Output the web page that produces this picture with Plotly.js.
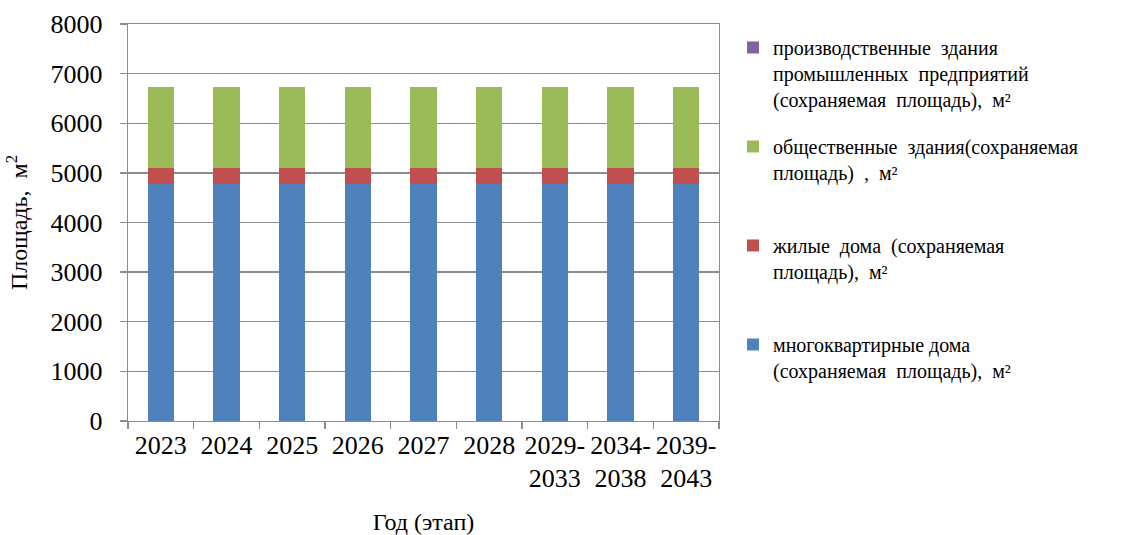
<!DOCTYPE html>
<html>
<head>
<meta charset="utf-8">
<script src="https://cdn.plot.ly/plotly-3.0.1.min.js"></script>
</head>
<body style="margin:0">
<div id="chart" style="width:1133px;height:535px"></div>
<script>
var categories = ["2023", "2024", "2025", "2026", "2027", "2028", "2029-<br>2033", "2034-<br>2038", "2039-<br>2043"];
var apartmentBuildings = [4780, 4780, 4780, 4780, 4780, 4780, 4780, 4780, 4780];
var residentialHouses = [315, 315, 315, 315, 315, 315, 315, 315, 315];
var publicBuildings = [1640, 1640, 1640, 1640, 1640, 1640, 1640, 1640, 1640];
var industrialBuildings = [0, 0, 0, 0, 0, 0, 0, 0, 0];
var seriesNames = [
  "многоквартирные дома<br>(сохраняемая  площадь),  м²<br>\u00a0",
  "жилые  дома  (сохраняемая<br>площадь),  м²<br>\u00a0",
  "общественные  здания(сохраняемая<br>площадь)  ,  м²<br>\u00a0",
  "производственные  здания<br>промышленных  предприятий<br>(сохраняемая  площадь),  м²"
];
var seriesColors = ["#4F81BD", "#C0504D", "#9BBB59", "#8064A2"];
var seriesValues = [apartmentBuildings, residentialHouses, publicBuildings, industrialBuildings];
var yTicks = [0, 1000, 2000, 3000, 4000, 5000, 6000, 7000, 8000];

var traces = seriesValues.map(function (vals, i) {
  return {
    type: "bar",
    x: categories,
    y: vals,
    name: seriesNames[i],
    legendgroup: "g" + i,
    legendrank: 1000 - i,
    marker: { color: seriesColors[i], line: { width: 0 } }
  };
});

var fontFamily = "Liberation Serif";
var gridColor = "#8c8c8c";

var layout = {
  width: 1133,
  height: 535,
  margin: { l: 128, r: 414, t: 24, b: 113.5 },
  barmode: "stack",
  bargap: 0.6,
  font: { family: fontFamily, color: "#000" },
  showlegend: true,
  legend: {
    x: 1.0237,
    xanchor: "left",
    y: 0.99,
    yanchor: "top",
    traceorder: "grouped",
    tracegroupgap: 18,
    valign: "top",
    font: { family: fontFamily, size: 20 }
  },
  xaxis: {
    type: "category",
    showline: true,
    linecolor: gridColor,
    linewidth: 1.3,
    mirror: true,
    ticks: "outside",
    tickson: "boundaries",
    ticklen: 7,
    tickcolor: gridColor,
    tickwidth: 1.3,
    tickangle: 0,
    showgrid: false,
    tickfont: { family: fontFamily, size: 26 },
    title: { text: "Год (этап)", font: { family: fontFamily, size: 24 }, standoff: 21 }
  },
  yaxis: {
    range: [0, 8000],
    tickvals: yTicks,
    showline: true,
    linecolor: gridColor,
    linewidth: 1.3,
    mirror: true,
    ticks: "outside",
    ticklen: 7,
    tickcolor: gridColor,
    tickwidth: 1.3,
    showgrid: true,
    gridcolor: gridColor,
    gridwidth: 1.3,
    zeroline: false,
    ticklabelstandoff: 12,
    tickfont: { family: fontFamily, size: 26 },
    title: { text: "Площадь,  м<sup>2</sup>", font: { family: fontFamily, size: 24 }, standoff: 16 }
  }
};

Plotly.newPlot("chart", traces, layout, { staticPlot: true });
</script>
</body>
</html>
